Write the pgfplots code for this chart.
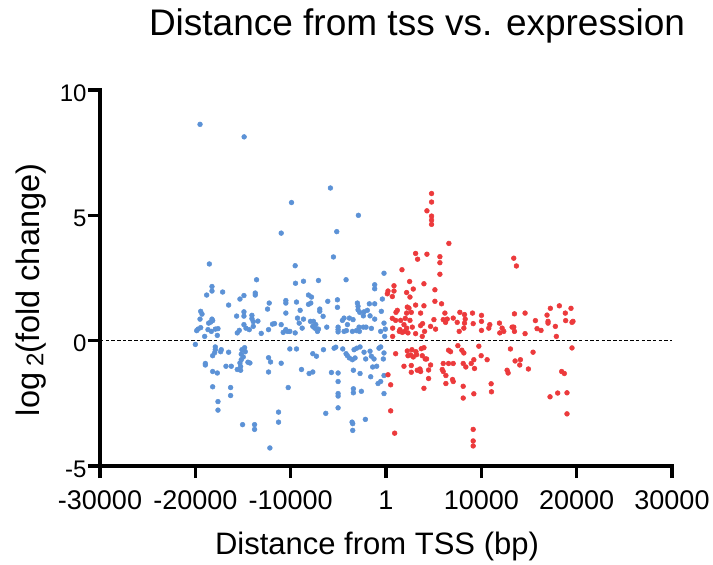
\documentclass[border=0pt]{standalone}
\usepackage{pgfplots}
\pgfplotsset{compat=1.18}
\usepackage{fontspec}
\setmainfont{Liberation Sans}
\definecolor{blueC}{RGB}{92,146,214}
\definecolor{redC}{RGB}{236,58,60}
\begin{document}
\begin{tikzpicture}
\useasboundingbox (-100pt,-99pt) rectangle (613pt,466pt);
\begin{axis}[
  anchor=south west, at={(0pt,0pt)},
  scale only axis, width=572pt, height=376pt,
  xmin=-30000, xmax=30000, ymin=-5, ymax=10,
  axis x line=bottom, axis y line=left,
  axis line style={line width=3.2pt, -, line cap=rect},
  xtick={-30000,-20000,-10000,0,10000,20000,30000},
  xticklabels={-30000,-20000,-10000,1,10000,20000,30000},
  ytick={-5,0,5,10}, yticklabels={-5,0,5,10},
  tick align=outside, major tick length=12pt,
  every tick/.style={line width=3.4pt, black},
  xtick style={line width=3.4pt, black},
  ytick style={line width=3.4pt, black},
  x tick label style={font=\fontsize{27}{30}\selectfont, yshift=-9pt},
  y tick label style={font=\fontsize{24}{28}\selectfont, yshift=-3pt, xshift=2pt},
  scaled x ticks=false,
  clip=false,
]
\addplot[only marks, color=blueC, mark=*, mark size=2.4pt, mark options={solid, fill=blueC, draw=blueC, line width=0.5pt}] table {
x y
-19506 8.63
-14880 8.13
-18530 3.06
-5828 6.09
-9911 5.51
-2896 5.00
-10993 4.29
-5165 4.35
-5514 3.34
-9527 2.99
-13576 2.43
-18253 2.16
-18253 1.98
-18811 1.82
-17136 1.94
-16508 1.42
-15321 1.66
-14902 1.80
-13716 1.90
-13716 1.82
-12250 1.50
-12425 1.26
-19439 1.17
-19300 1.06
-19509 0.86
-18253 0.86
-18392 0.74
-18183 0.80
-18602 0.70
-15670 0.98
-14902 1.15
-14902 0.98
-14065 1.01
-14065 0.88
-13925 0.76
-13437 0.78
-14902 0.64
-14344 0.44
-15391 0.41
-15600 0.31
-14693 0.50
-13925 0.57
-13088 0.29
-12320 0.44
-11901 0.66
-11692 0.68
-10994 0.64
-10784 0.33
-19719 0.46
-19858 0.40
-19439 0.52
-18672 0.44
-18323 0.37
-17904 0.46
-17625 0.48
-17694 0.21
-19021 0.17
-19998 -0.15
-17904 -0.25
-17904 -0.36
-17974 -0.48
-17276 -0.36
-17345 -0.44
-18183 -0.60
-16508 -0.46
-14833 -0.28
-15112 -0.36
-14763 -0.44
-15182 -0.54
-14972 -0.65
-15182 -0.76
-15321 -0.89
-18951 -0.91
-18951 -0.97
-14484 -0.86
-14274 -0.89
-16787 -1.02
-16229 -1.02
-15600 -1.15
-15251 -1.18
-15251 -1.03
-18183 -1.23
-17694 -1.29
-12320 -0.68
-12110 -0.85
-12320 -1.25
-10994 -0.90
-18183 -1.84
-16299 -1.87
-16299 -2.19
-17625 -2.43
-17625 -2.77
-11273 -2.85
-11273 -3.25
-15042 -3.35
-13785 -3.35
-13785 -3.54
-12180 -4.28
-209 2.69
-9492 2.29
-8655 2.37
-7084 2.40
-4188 2.43
-1186 2.23
-1186 2.07
-10504 1.60
-10504 1.50
-9388 1.54
-8131 1.82
-7817 1.74
-7887 1.50
-8131 1.45
-6107 1.57
-5095 1.63
-5095 1.33
-3001 1.50
-1745 1.47
-1186 1.47
-384 1.66
-10504 1.10
-9004 1.21
-6945 1.26
-6945 1.17
-6596 0.97
-9283 0.90
-8655 0.86
-9109 0.70
-7922 0.77
-7608 0.77
-7363 0.64
-7678 0.57
-7468 0.50
-7189 0.37
-7084 0.46
-6212 0.54
-8795 0.50
-9527 0.31
-10330 0.37
-10086 0.37
-10504 0.44
-4397 0.90
-4572 0.81
-3838 0.90
-3455 0.84
-4048 0.64
-4397 0.37
-4153 0.40
-5025 0.54
-5025 0.44
-5025 0.35
-3525 0.37
-3106 0.40
-2827 0.54
-2373 0.54
-2792 0.37
-2094 0.54
-1535 0.49
-558 0.37
-209 0.70
-70 0.46
-140 0.17
-488 1.17
-1186 0.86
-1675 0.99
-2303 1.15
-1954 1.21
-2931 1.37
-2931 1.23
-2757 1.13
-2373 0.99
-10086 -0.33
-9388 -0.33
-6561 -0.36
-5444 -0.30
-5270 -0.26
-7678 -0.52
-7294 -0.62
-4537 -0.33
-4188 -0.52
-4048 -0.60
-3838 -0.69
-3525 -0.76
-3246 -0.69
-3350 -0.36
-3071 -0.30
-2722 -0.25
-2303 -0.46
-2129 -0.73
-1675 -0.42
-1535 -0.62
-1256 -0.73
-733 -0.30
-558 -0.25
-209 -0.49
-279 -0.73
-8864 -1.15
-8062 -1.31
-7678 -1.25
-5723 -1.27
-5025 -1.29
-5025 -1.63
-3420 -1.18
-2722 -1.31
-1605 -1.44
-1396 -1.05
-977 -1.02
-209 -1.39
-837 -1.71
-558 -1.63
-10260 -1.87
-5025 -2.11
-5025 -2.21
-3420 -1.92
-3420 -2.08
-2582 -2.02
-209 -2.11
-5025 -2.68
-6317 -2.90
-3559 -3.25
-3490 -3.31
-2164 -3.14
-3490 -3.58
};
\addplot[only marks, color=redC, mark=*, mark size=2.4pt, mark options={solid, fill=redC, draw=redC, line width=0.5pt}] table {
x y
1676 2.83
5654 2.65
2478 2.36
3979 2.27
838 2.19
838 1.98
210 1.98
140 1.87
664 1.76
2164 1.92
2862 2.06
2513 1.74
5131 2.03
5131 1.57
5829 1.47
3107 1.42
3979 1.39
1187 1.21
1047 1.13
2234 1.34
2409 1.30
2164 1.10
2653 1.13
3630 1.10
664 0.89
1012 0.81
1536 0.81
2025 0.89
2513 0.81
1885 0.64
2164 0.50
1466 0.44
1396 0.37
1711 0.33
1955 0.37
2304 0.31
2758 0.54
3107 0.28
3630 0.60
3839 0.68
4049 0.37
3805 0.17
698 0.50
698 0.17
4677 0.57
5201 0.46
5026 0.84
6003 0.84
6248 0.73
6178 1.10
6422 0.86
7050 0.90
7469 0.73
7748 1.13
8237 1.04
8307 0.86
8237 0.70
8167 0.50
7678 0.37
9074 1.10
9144 0.68
10017 1.01
10017 0.77
10017 0.41
1012 -0.52
2234 -0.41
2722 -0.36
2304 -0.60
2583 -0.57
2862 -0.65
3211 -0.56
3142 -0.44
3700 -0.32
3979 -0.28
3805 -0.60
4119 -0.73
4258 -0.73
1885 -1.02
2653 -0.99
2653 -1.26
3281 -1.18
3560 -1.13
3630 -1.23
4468 -1.17
4677 -0.97
6003 -0.91
5899 -1.15
6003 -1.23
6562 -0.91
7050 -0.91
6562 -0.38
6771 -0.44
7539 -0.20
7957 -0.38
8167 -0.49
8097 -0.91
8376 -1.05
8935 -0.91
9284 -1.11
9214 -0.76
9738 -0.22
9982 -0.60
6282 -1.39
6980 -1.55
7050 -1.63
6282 -1.71
4468 -1.51
3979 -1.90
210 -1.36
489 -1.76
8097 -1.82
8097 -2.29
9214 -2.12
489 -2.80
908 -3.69
9144 -3.54
9144 -4.00
9144 -4.20
10889 0.64
10785 0.50
11901 0.70
12181 0.50
11936 0.31
12355 0.37
13228 0.54
13402 0.54
13472 0.37
13472 1.07
14589 1.10
14589 0.28
15671 0.80
15845 0.48
16264 0.41
16892 1.02
16997 0.77
16997 0.70
17241 1.29
18183 1.39
17765 0.57
17869 0.17
18811 1.10
18846 0.80
19405 1.29
19510 0.73
19614 0.77
13053 -0.33
15426 -0.46
10610 -0.76
13542 -0.81
14100 -0.76
14030 -0.97
14938 -1.13
12704 -1.18
12809 -1.29
19510 -0.29
18428 -1.23
18707 -1.31
11029 -1.72
11064 -2.04
17206 -2.24
18009 -2.09
18986 -2.08
18986 -2.92
4781 5.87
4781 5.53
4293 5.18
4781 4.97
4781 4.81
4781 4.64
6596 3.88
3106 3.48
3315 3.25
4293 3.45
5654 3.35
5654 3.11
13402 3.29
13681 2.98
};
\addplot[black, line width=1.3pt, dash pattern=on 3.5pt off 2.2pt] coordinates {(-30000,0) (30000,0)};
\end{axis}
\node[anchor=base, font=\fontsize{37}{40}\selectfont] at (317pt,430pt) {Distance from tss vs. expression};
\node[anchor=base, font=\fontsize{31}{34}\selectfont] at (277pt,-89pt) {Distance from TSS (bp)};
\node[anchor=base, rotate=90, font=\fontsize{32.5}{34}\selectfont] at (-60pt,176pt) {log\hspace{6pt}\raisebox{-3.5pt}{\fontsize{24}{24}\selectfont 2}(fold change)};
\end{tikzpicture}
\end{document}
